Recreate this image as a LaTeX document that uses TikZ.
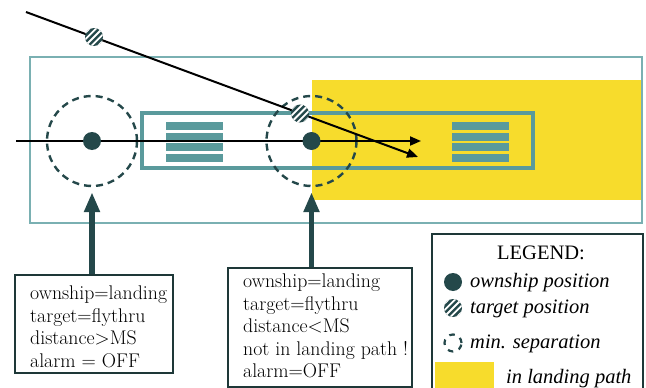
\documentclass[tikz,border=0pt]{standalone}
\usepackage{fontspec}
\newfontfamily\legfont{Liberation Serif}
\usetikzlibrary{arrows.meta,calc}
\definecolor{dteal}{RGB}{36,72,74}
\definecolor{mteal}{RGB}{90,154,156}
\definecolor{lteal}{RGB}{122,176,178}
\definecolor{lyellow}{RGB}{247,220,44}
\definecolor{boxline}{RGB}{30,56,56}
\begin{document}
\begin{tikzpicture}[x=1pt,y=-1pt,
  ownship/.style={circle,fill=dteal,minimum size=18pt,inner sep=0pt},
  target/.style={circle,fill=dteal,minimum size=18pt,inner sep=0pt,
    path picture={\foreach \k in {-12.8,-6.4,...,12.9}
      \draw[white,line width=1.8pt] ($(path picture bounding box.center)+(\k-12,12)$) -- ++(24,-24);}},
  sepcircle/.style={circle,draw=dteal,dash pattern=on 7pt off 5pt,line width=2.4pt,minimum size=90pt,inner sep=0pt},
  smallsep/.style={circle,draw=dteal,dash pattern=on 5.5pt off 6pt,line width=2.2pt,minimum size=17pt,inner sep=0pt},
  stripe/.style={fill=mteal},
  evbox/.style={draw=boxline,line width=2.5pt,inner sep=0pt,fill=white},
  boxtext/.style={align=left,inner sep=0pt,font=\fontsize{19.8}{22.5}\selectfont},
  bigarrow/.style={draw=dteal,line width=5.5pt,-{Triangle[length=20pt,width=15pt]}},
  path arrow/.style={draw=black,line width=2pt,-{Triangle[length=11pt,width=9pt]}},
  legtext/.style={inner sep=0pt,font=\legfont\itshape\fontsize{20.5}{24}\selectfont},
]
\useasboundingbox (0,0) rectangle (646,388);
% landing path area
\fill[lyellow] (312,80) rectangle (641,200);
\node[draw=lteal,line width=2.5pt,minimum width=612pt,minimum height=166pt,inner sep=0pt] (area) at (336,140) {};
\node[draw=mteal,line width=4pt,minimum width=391pt,minimum height=55pt,inner sep=0pt] (runway) at (337.5,140) {};
\foreach \y in {122,132.5,143,153.5} {
  \fill[stripe] (166,\y) rectangle (222.5,\y+8);
  \fill[stripe] (452,\y) rectangle (508.5,\y+8);
}
% separation circles
\node[sepcircle] (sep1) at (92,141) {};
\node[sepcircle] (sep2) at (311.5,141) {};
% trajectories
\coordinate (hstart) at (16,141);
\coordinate (hend) at (421,141);
\coordinate (tstart) at (26,12);
\coordinate (tend) at (418,157);
\draw[path arrow] (hstart) -- (hend);
\draw[path arrow] (tstart) -- (tend);
% aircraft
\node[ownship] (own1) at (92,141) {};
\node[ownship] (own2) at (311.5,141) {};
\node[target] (tgt1) at (94,37) {};
\node[target] (tgt2) at (300,113.5) {};
% event boxes
\node[evbox,minimum width=158pt,minimum height=98pt] (b1) at (94,324) {};
\node[boxtext,anchor=north west] (t1) at (30,286) {ownship=landing\\target=flythru\\distance>MS\\alarm = OFF};
\node[evbox,minimum width=184pt,minimum height=119pt] (b2) at (320,327.5) {};
\node[boxtext,anchor=north west] (t2) at (243,274) {ownship=landing\\target=flythru\\distance<MS\\not in landing path !\\alarm=OFF};
\draw[bigarrow,shorten >=5pt] (b1.north -| sep1.south) -- (sep1.south);
\draw[bigarrow,shorten >=5pt] (b2.north -| sep2.south) -- (sep2.south);
% legend
\node[evbox,minimum width=211pt,minimum height=158pt] (leg) at (537.5,313) {};
\node[inner sep=0pt,font=\legfont\fontsize{20.5}{24}\selectfont,anchor=base] (legtitle) at (541,259) {LEGEND:};
\node[ownship] (lown) at (453,282) {};
\node[legtext,anchor=base west] (lownt) at (470,287) {ownship position};
\node[target] (ltgt) at (453,308) {};
\node[legtext,anchor=base west] (ltgtt) at (470,313) {target position};
\node[smallsep] (lsep) at (453,343) {};
\node[legtext,anchor=base west] (lsept) at (470,348) {min. separation};
\fill[lyellow] (435,362) rectangle (494,392);
\node[legtext,anchor=base west] (lpatht) at (506,383) {in landing path};
\end{tikzpicture}
\end{document}
